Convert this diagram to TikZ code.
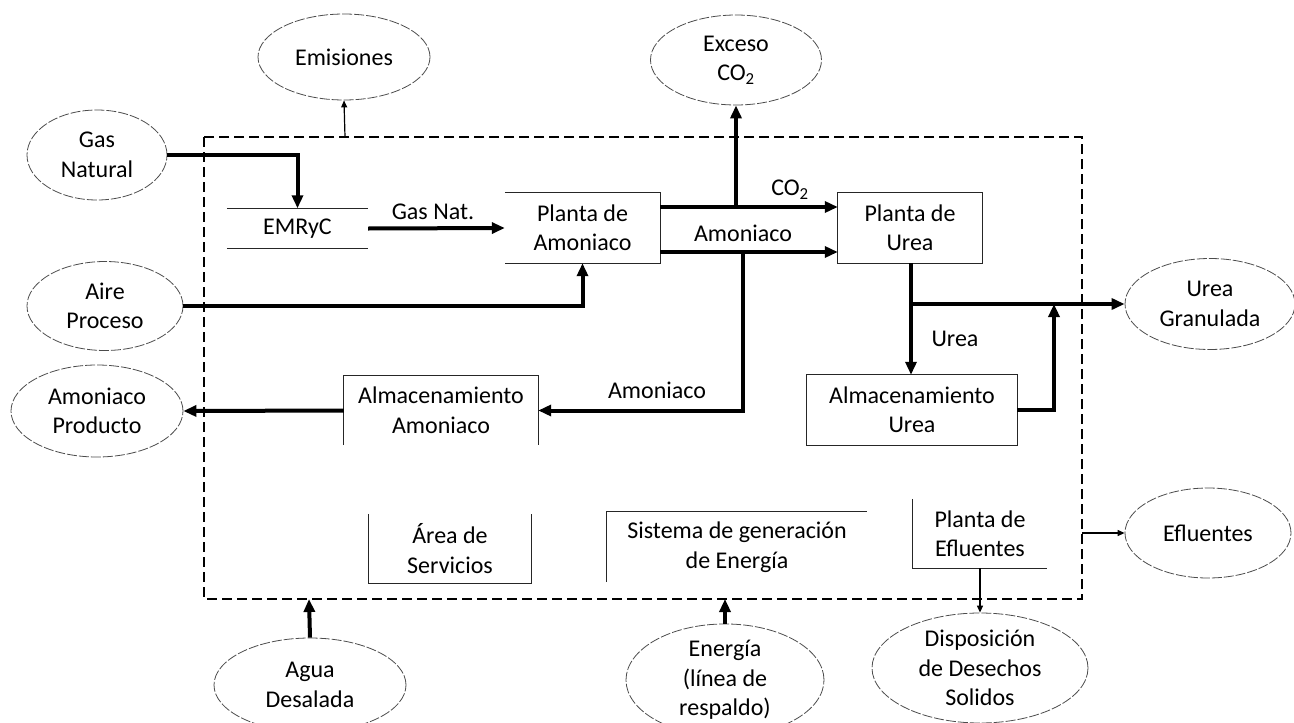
\documentclass[tikz,border=0pt]{standalone}
\usepackage{fontspec}
\setmainfont{Carlito}
\usetikzlibrary{arrows.meta,shapes.geometric}
\begin{document}
\begin{tikzpicture}[x=1pt,y=-1pt,
  every node/.style={font=\fontsize{24}{29.5}\selectfont, inner sep=0pt, align=center},
  ell/.style={ellipse, draw=black!70, line width=0.8pt, dash pattern=on 10pt off 2pt},
  boxnode/.style={rectangle},
  boxline/.style={draw=black!85, line width=1.3pt},
  thickarrow/.style={line width=4pt, -{Triangle[length=13pt,width=11pt]}},
  thickline/.style={line width=4pt},
  thinarrow/.style={line width=1.2pt, -{Triangle[length=7pt,width=6pt]}},
  boundary/.style={line width=2.5pt, dash pattern=on 10pt off 5pt}
]
\useasboundingbox (0,0) rectangle (1294,723);
\clip (0,0) rectangle (1294,723);

% boundary
\draw[boundary] (204,137) rectangle (1082,599);

% ellipses
\node[ell, minimum width=172pt, minimum height=86pt] (emi) at (344,57) {Emisiones};
\node[ell, minimum width=140pt, minimum height=90pt] (gn) at (97,155) {Gas\\Natural};
\node[ell, minimum width=171pt, minimum height=90pt] (ex) at (736,60) {Exceso\\CO\textsubscript{2}};
\node[ell, minimum width=156pt, minimum height=89pt] (ap) at (105,306) {Aire\\Proceso};
\node[ell, minimum width=172pt, minimum height=92pt] (apr) at (97,411) {Amoniaco\\Producto};
\node[ell, minimum width=170pt, minimum height=91pt] (ug) at (1210,304) {Urea\\Granulada};
\node[ell, minimum width=166pt, minimum height=90pt] (ef) at (1208,533) {Efluentes};
\node[ell, minimum width=216pt, minimum height=110pt] (dd) at (980,668) {Disposición\\de Desechos\\Solidos};
\node[ell, minimum width=198pt, minimum height=90pt] (en) at (725,680) {Energía\\(línea de\\respaldo)};
\node[ell, minimum width=192pt, minimum height=94pt] (ag) at (310,685) {Agua\\Desalada};

% boxes
\node[boxnode, minimum width=141pt, minimum height=40pt] (emr) at (297.5,228.5) {EMRyC};
\draw[boxline] (emr.north west) -- (emr.north east);
\draw[boxline] (emr.south west) -- (emr.south east);

\node[boxnode, minimum width=155pt, minimum height=70pt] (pa) at (582.5,228) {Planta de\\Amoniaco};
\draw[boxline] (pa.north west) -- (pa.north east) -- (pa.south east) -- (pa.south west);

\node[boxnode, minimum width=144pt, minimum height=70pt] (pu) at (910,228) {Planta de\\Urea};
\draw[boxline] (pu.north west) rectangle (pu.south east);

\node[boxnode, minimum width=194pt, minimum height=69pt] (aa) at (441,410.5) {Almacenamiento\\Amoniaco};
\draw[boxline] (aa.south west) -- (aa.north west) -- (aa.north east) -- (aa.south east);

\node[boxnode, minimum width=210pt, minimum height=70pt] (au) at (912,410) {Almacenamiento\\Urea};
\draw[boxline] (au.north west) rectangle (au.south east);

\node[boxnode, minimum width=162pt, minimum height=69pt] (as) at (450,548.5) {Área de\\Servicios};
\draw[boxline] (as.north west) -- (as.south west) -- (as.south east) -- (as.north east);

\node[boxnode, minimum width=260pt, minimum height=70pt] (sg) at (737,547) {Sistema de generación\\de Energía};
\draw[boxline] (sg.south west) -- (sg.north west) -- (sg.north east);

\node[boxnode, minimum width=134pt, minimum height=69pt] (pe) at (980,533.5) {Planta de\\Efluentes};
\draw[boxline] (pe.north west) -- (pe.south west) -- (pe.south east);

% junction coordinates
\coordinate (j1) at (736,207);
\coordinate (j2) at (743,252);
\coordinate (j3) at (911,304);
\coordinate (j4) at (1054,304);
\coordinate (b1) at (345,137);
\coordinate (b2) at (1082,533);
\coordinate (b3) at (725,599);
\coordinate (b4) at (309,599);

% connectors
\draw[thickarrow] (gn.east) -| (emr.north);
\draw[thickarrow] (emr.east) -- (pa.west);
\draw[thickarrow] (ap.east) -| (pa.south);
\draw[thickarrow] ([yshift=21pt]pa.east) -- ([yshift=21pt]pu.west);
\draw[thickarrow] ([yshift=-24pt]pa.east) -- ([yshift=-24pt]pu.west);
\draw[thickarrow] (j1) -- (ex.south);
\draw[thickarrow] (j2) |- (aa.east);
\draw[thickarrow] (aa.west) -- (apr.east);
\draw[thickarrow] (pu.south -| j3) -- (au.north -| j3);
\draw[thickarrow] (j3) -- (ug.west);
\draw[thickarrow] (au.east) -| (j4);
\draw[thinarrow] (b1) -- (emi.south);
\draw[thinarrow] (b2) -- (ef.west);
\draw[thinarrow] (pe.south) -- (dd.north);
\draw[thickarrow] (en.north) -- (b3);
\draw[thickarrow] (ag.north) -- (b4);

% labels
\node (lgn) at (433,212) {Gas Nat.};
\node (lco) at (790,190) {CO\textsubscript{2}};
\node (lam1) at (743,233) {Amoniaco};
\node (lam2) at (657,390) {Amoniaco};
\node (lur) at (955,339) {Urea};
\end{tikzpicture}
\end{document}
